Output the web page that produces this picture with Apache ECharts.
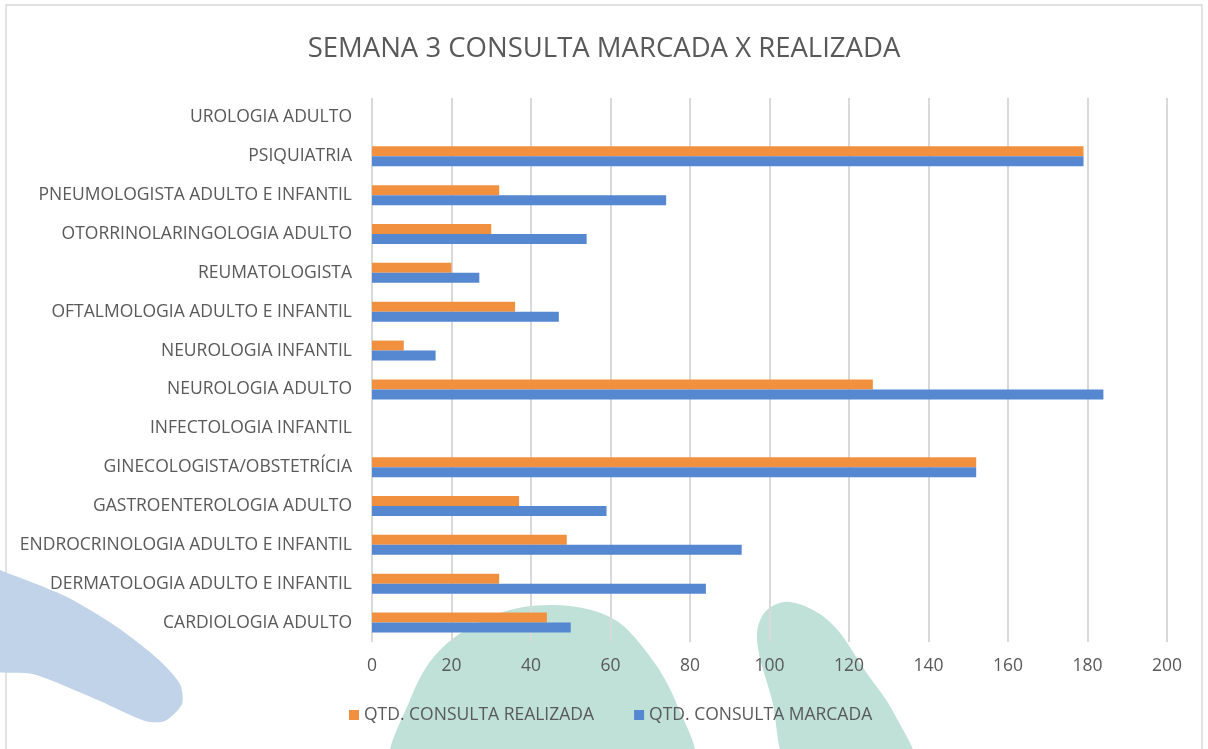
<!DOCTYPE html>
<html>
<head>
<meta charset="utf-8">
<script src="https://cdn.jsdelivr.net/npm/echarts@6/dist/echarts.min.js"></script>
<style>
  html, body { margin: 0; padding: 0; background: #fff; }
  #container { width: 1208px; height: 749px; }
</style>
</head>
<body>
<div id="container"></div>
<script>
// categories, bottom to top as the category axis draws them
let especialidades = [
    'CARDIOLOGIA ADULTO',
    'DERMATOLOGIA ADULTO E INFANTIL',
    'ENDROCRINOLOGIA ADULTO E INFANTIL',
    'GASTROENTEROLOGIA ADULTO',
    'GINECOLOGISTA/OBSTETRÍCIA',
    'INFECTOLOGIA INFANTIL',
    'NEUROLOGIA ADULTO',
    'NEUROLOGIA INFANTIL',
    'OFTALMOLOGIA ADULTO E INFANTIL',
    'REUMATOLOGISTA',
    'OTORRINOLARINGOLOGIA ADULTO',
    'PNEUMOLOGISTA ADULTO E INFANTIL',
    'PSIQUIATRIA',
    'UROLOGIA ADULTO'
];
let realizada = [44, 32, 49, 37, 152, 0, 126, 8, 36, 20, 30, 32, 179, 0];
let marcada = [50, 84, 93, 59, 152, 0, 184, 16, 47, 27, 54, 74, 179, 0];
let nomeRealizada = 'QTD. CONSULTA REALIZADA';
let nomeMarcada = 'QTD. CONSULTA MARCADA';

let dom = document.getElementById("container");
let myChart = echarts.init(dom);
let fonte = '"Open Sans", sans-serif';
let cinza = '#595959';

// watermark shapes behind the plot
let manchaAzul = [[-20, 566], [7, 573], [67, 597], [117, 627], [158, 659], [180, 684], [182, 704], [165, 721], [145, 721], [100, 701], [33, 674], [-20, 667]];
let manchaVerde1 = [[392, 770], [410, 700], [440, 650], [495, 615], [553, 605], [610, 617], [645, 650], [675, 700], [693, 770], [600, 800], [480, 800]];
let manchaVerde2 = [[790, 770], [772, 700], [757, 640], [765, 612], [790, 602], [830, 622], [866, 672], [895, 715], [915, 770], [860, 800]];

let option = {
    backgroundColor: '#fff',
    title: {
        text: 'SEMANA 3 CONSULTA MARCADA X REALIZADA',
        left: 'center',
        top: 30,
        textStyle: { fontFamily: fonte, fontSize: 27.5, fontWeight: 'normal', color: cinza }
    },
    legend: {
        data: [nomeRealizada, nomeMarcada],
        bottom: 20,
        left: 344,
        itemWidth: 10,
        itemHeight: 10,
        itemGap: 40,
        icon: 'rect',
        textStyle: { fontFamily: fonte, fontSize: 17.5, color: cinza }
    },
    graphic: [
        { type: 'rect', z: -20, shape: { x: 6, y: 5, width: 1196, height: 760 },
          style: { fill: 'none', stroke: '#d9d9d9', lineWidth: 1.5 } },
        { type: 'polygon', z: -10, shape: { points: manchaAzul, smooth: 0.25 },
          style: { fill: '#c0d3e8' } },
        { type: 'polygon', z: -10, shape: { points: manchaVerde1, smooth: 0.35 },
          style: { fill: '#c0e1d8' } },
        { type: 'polygon', z: -10, shape: { points: manchaVerde2, smooth: 0.35 },
          style: { fill: '#c0e1d8' } }
    ],
    grid: {
        left: 372,
        right: 41,
        top: 98,
        bottom: 107,
        containLabel: false
    },
    xAxis: {
        type: 'value',
        min: 0,
        max: 200,
        interval: 20,
        axisLine: { show: false },
        axisTick: { show: false },
        axisLabel: { margin: 15, fontFamily: fonte, fontSize: 17.5, color: cinza },
        splitLine: { lineStyle: { color: '#d9d9d9', width: 2 } }
    },
    yAxis: {
        type: 'category',
        data: especialidades,
        axisLine: { show: false },
        axisTick: { show: false },
        axisLabel: { margin: 20, fontFamily: fonte, fontSize: 17.5, color: cinza }
    },
    series: [
        {
            name: nomeRealizada,
            type: 'bar',
            data: realizada,
            barWidth: 10,
            barGap: '0%',
            itemStyle: { color: '#f1913f' }
        },
        {
            name: nomeMarcada,
            type: 'bar',
            data: marcada,
            barWidth: 10,
            barGap: '0%',
            itemStyle: { color: '#5588d1' }
        }
    ]
};
myChart.setOption(option, true);
</script>
</body>
</html>
